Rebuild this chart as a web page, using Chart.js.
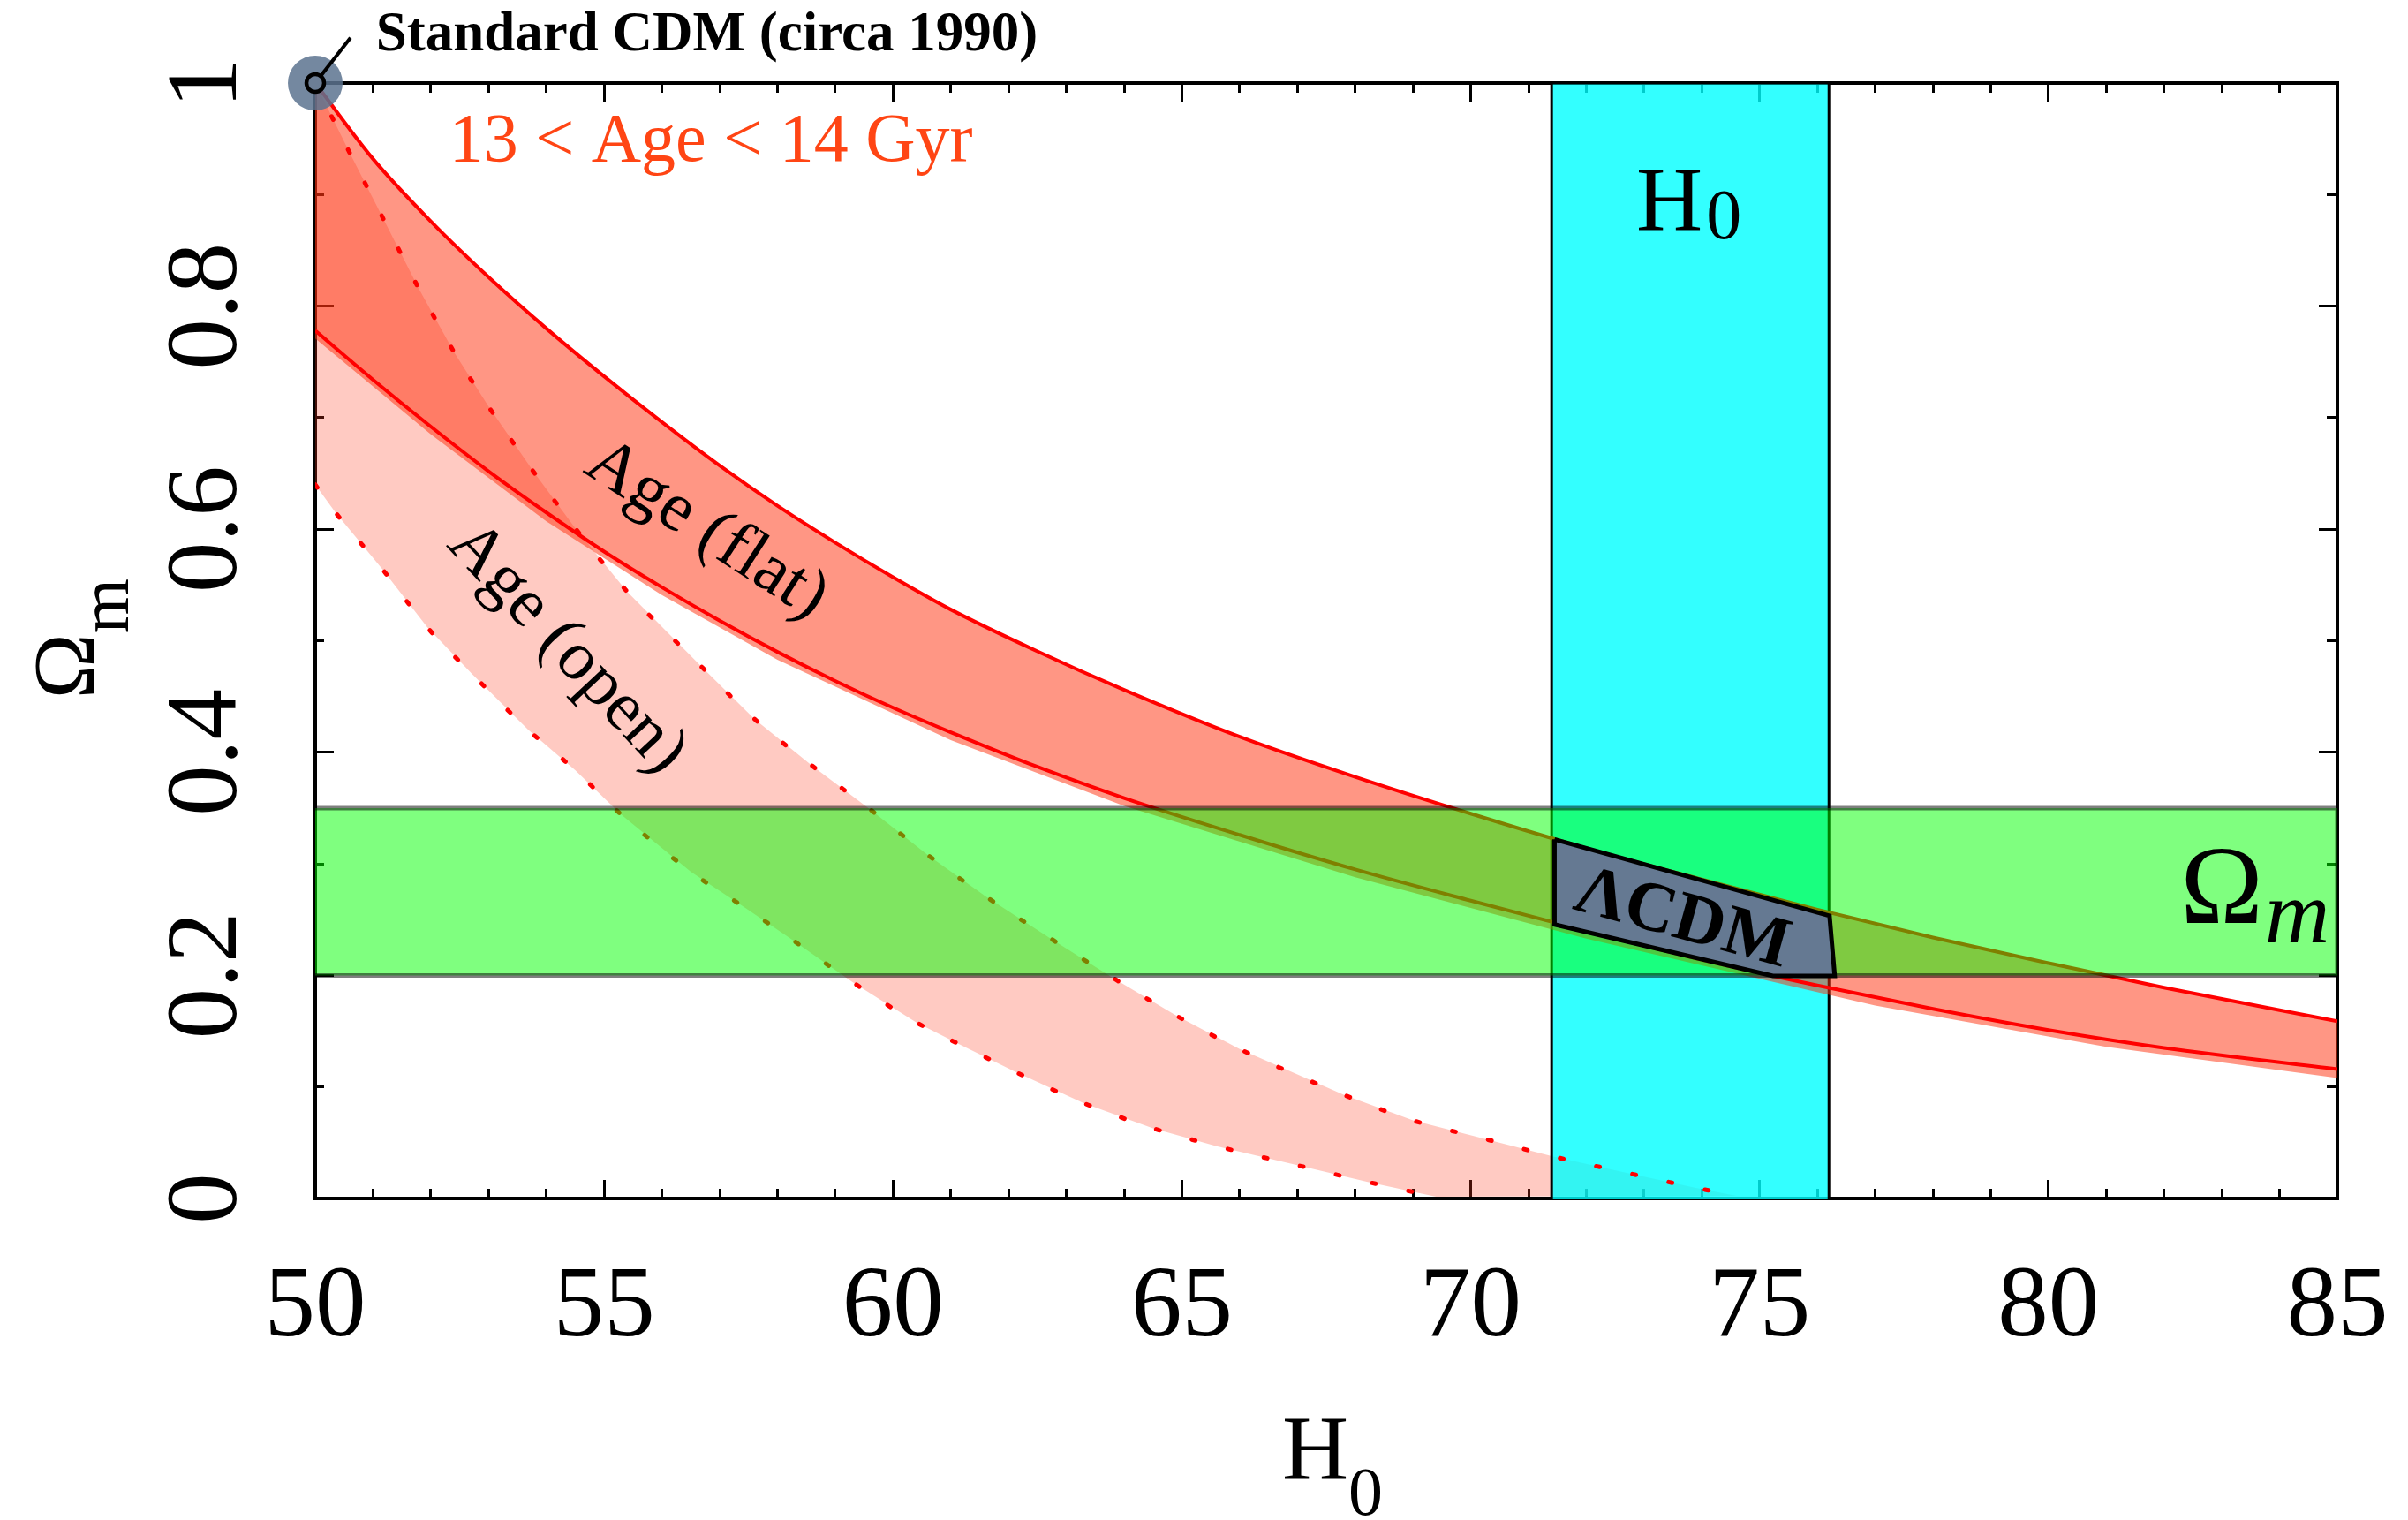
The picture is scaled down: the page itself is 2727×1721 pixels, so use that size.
<!DOCTYPE html>
<html>
<head>
<meta charset="utf-8">
<script src="https://cdn.jsdelivr.net/npm/chart.js@4.4.1/dist/chart.umd.min.js"></script>
<style>
  html, body { margin: 0; padding: 0; background: #fff; }
</style>
</head>
<body>
<canvas id="myChart" width="2727" height="1721"></canvas>
<script>
// axis ranges and tick labels
var hMin = 50, hMax = 85, omMin = 0, omMax = 1;
var xTicks = ["50", "55", "60", "65", "70", "75", "80", "85"];
var yTicks = ["0", "0.2", "0.4", "0.6", "0.8", "1"];

// Age (flat) solid curves: 13 Gyr (upper) and 14 Gyr (lower)
var flatH = [50, 51, 52, 53, 54, 55, 56, 57, 58, 59, 60, 61, 62.5, 64, 66, 68, 70, 72, 74, 76, 78, 80, 82, 85];
var flatHiOm = [1.0, 0.932, 0.876, 0.826, 0.78, 0.737, 0.696, 0.657, 0.621, 0.588, 0.557, 0.528, 0.4905, 0.456, 0.414, 0.378, 0.345, 0.314, 0.286, 0.259, 0.234, 0.211, 0.189, 0.159];
var flatLoOm = [0.778, 0.734, 0.692, 0.652, 0.615, 0.58, 0.548, 0.518, 0.49, 0.464, 0.44, 0.418, 0.387, 0.359, 0.326, 0.295, 0.267, 0.24, 0.214, 0.191, 0.17, 0.151, 0.135, 0.116];
// the shaded flat band is a coarser polygon that sits a little under the lower curve
var flatFillLoH = [50, 52, 54, 56, 58, 61, 64, 68, 72, 77, 81, 85];
var flatFillLoOm = [0.771, 0.685, 0.607, 0.541, 0.483, 0.411, 0.352, 0.288, 0.233, 0.173, 0.136, 0.108];

// Age (open) dotted curves
var openHiH = [50, 50.6, 51.2, 51.8, 52.4, 53, 53.8, 54.5, 55.4, 56.7, 57.6, 58.6, 59.6, 60.6, 61.6, 62.7, 63.8, 64.9, 66, 67.8, 69, 70.2, 71.4, 72.7, 73.9, 74.6];
var openHiOm = [1.0, 0.937, 0.876, 0.815, 0.759, 0.71, 0.65, 0.601, 0.544, 0.476, 0.43, 0.388, 0.349, 0.308, 0.271, 0.234, 0.198, 0.164, 0.134, 0.093, 0.07, 0.054, 0.038, 0.023, 0.0095, 0.0024];
var openLoH = [50, 50.35, 51.15, 51.94, 52.72, 53.69, 54.5, 55.3, 56.5, 57.4, 58.2, 59.3, 60.4, 61.2, 62.1, 63.3, 64.5, 65.6, 66.9, 68.2, 69.4];
var openLoOm = [0.64, 0.615, 0.565, 0.512, 0.47, 0.42, 0.384, 0.344, 0.293, 0.262, 0.234, 0.194, 0.158, 0.137, 0.114, 0.0855, 0.063, 0.047, 0.031, 0.015, 0.0015];

// H0 and Omega_m measurement bands
var h0Band = [71.4, 76.2];
var omBand = [0.2, 0.35];

// LCDM overlap patch
var lcdmH = [71.45, 76.21, 76.3, 75.23, 71.45];
var lcdmOm = [0.322, 0.2535, 0.1995, 0.1995, 0.2457];

// standard CDM point and the pin to its label
var scdmH = [50, 50.61];
var scdmOm = [1, 1.0406];

var serif = "Liberation Serif";

function pts(xs, ys) {
  return xs.map(function (x, i) {
    return { x: x, y: ys[i] };
  });
}

var openPoly = pts(openHiH, openHiOm).concat(pts(openLoH, openLoOm).reverse());
var flatPoly = pts(flatH, flatHiOm).concat(pts(flatFillLoH, flatFillLoOm).reverse());
var h0Poly = [
  { x: h0Band[0], y: omMin }, { x: h0Band[0], y: omMax },
  { x: h0Band[1], y: omMax }, { x: h0Band[1], y: omMin },
];
var omPoly = [
  { x: hMin, y: omBand[1] }, { x: hMax, y: omBand[1] },
  { x: hMax, y: omBand[0] }, { x: hMin, y: omBand[0] },
];
var lcdmPoly = pts(lcdmH, lcdmOm);
lcdmPoly.push(lcdmPoly[0]);

function shape(data, fillColor, lineColor, lineWidth, order) {
  return {
    data: data,
    fill: "shape",
    backgroundColor: fillColor,
    borderColor: lineColor || "rgba(0,0,0,0)",
    borderWidth: lineWidth || 0,
    pointRadius: 0,
    tension: 0,
    order: order,
  };
}

function curve(xs, ys, dotted, order) {
  return {
    data: pts(xs, ys),
    fill: false,
    borderColor: "#ff0000",
    borderWidth: dotted ? 5 : 4,
    borderDash: dotted ? [4, 38] : [],
    borderCapStyle: dotted ? "round" : "butt",
    cubicInterpolationMode: "monotone",
    pointRadius: 0,
    order: order,
  };
}

// minor ticks are drawn shorter by dashing the tick mark
function tickDash(major, minorDash) {
  return function (c) {
    return major(c.index) ? [] : minorDash;
  };
}
var xMajor = function (i) { return i % 5 === 0; };
var yMajor = function (i) { return i % 2 === 0; };

function axisGrid(major, minorDash) {
  return {
    drawOnChartArea: false,
    tickLength: -21,
    tickWidth: 3,
    tickColor: "#000",
    tickBorderDash: tickDash(major, minorDash),
  };
}

// pin the plot box: fixed axis sizes, no extra room for overhanging labels
function fixSize(w, h) {
  return function (s) {
    if (w !== null) s.width = w;
    if (h !== null) s.height = h;
    s.paddingLeft = 0;
    s.paddingRight = 0;
    s.paddingTop = 0;
    s.paddingBottom = 0;
  };
}

var labels = {
  id: "labels",
  afterDatasetsDraw: function (chart) {
    var c = chart.ctx;
    var xs = chart.scales.x, ys = chart.scales.y, a = chart.chartArea;
    var px = function (h) { return xs.getPixelForValue(h); };
    var py = function (o) { return ys.getPixelForValue(o); };

    function put(str, x, y, font, color, align, angle, base) {
      c.save();
      c.translate(x, y);
      c.rotate(((angle || 0) * Math.PI) / 180);
      c.font = font;
      c.fillStyle = color || "#000";
      c.textAlign = align || "left";
      c.textBaseline = base || "alphabetic";
      c.fillText(str, 0, 0);
      c.restore();
    }
    function width(str, font) {
      c.save();
      c.font = font;
      var w = c.measureText(str).width;
      c.restore();
      return w;
    }

    put("Standard CDM (circa 1990)", px(51.05), py(1.029), "bold 63px " + serif);
    put("13 < Age < 14 Gyr", px(52.32), py(0.93), "78px " + serif, "#ff4514");
    put("Age (flat)", px(56.77), py(0.599), "79px " + serif, "#000", "center", 33, "middle");
    put("Age (open)", px(54.35), py(0.493), "79px " + serif, "#000", "center", 47, "middle");
    put("\u039BCDM", px(73.66), py(0.2494), "bold 80px " + serif, "#000", "center", 15.5, "middle");

    // H0 inside the cyan band
    var hf = "104px " + serif;
    var hx = px(73.44) - width("H", hf) / 2;
    put("H", hx, py(0.868), hf);
    put("0", hx + width("H", hf) + 4, py(0.868) + 9, "80px " + serif);

    // Omega_m inside the green band
    var mf = "italic 102px " + serif;
    var mx = px(84.87) - width("m", mf);
    put("m", mx, py(0.2296), mf);
    put("\u03A9", mx - 2, py(0.247), "126px " + serif, "#000", "right");

    // axis titles
    var cx = (a.left + a.right) / 2;
    put("H", cx - 50, a.bottom + 318, "104px " + serif);
    put("0", cx + 25, a.bottom + 358, "78px " + serif);
    c.save();
    c.translate(a.left - 251, (a.top + a.bottom) / 2 + 66);
    c.rotate(-Math.PI / 2);
    c.font = "100px " + serif;
    c.fillStyle = "#000";
    c.textBaseline = "alphabetic";
    c.fillText("\u03A9", 0, 0);
    var ow = c.measureText("\u03A9").width;
    c.font = "80px " + serif;
    c.fillText("m", ow, 39);
    c.restore();
  },
};

var ctx = document.getElementById("myChart").getContext("2d");
var chart = new Chart(ctx, {
  type: "line",
  data: {
    datasets: [
      // pin and ring of the standard CDM label
      {
        data: pts(scdmH, scdmOm),
        borderColor: "#000",
        borderWidth: 4,
        pointRadius: 10,
        pointBorderWidth: 4.5,
        pointBorderColor: "#000",
        pointBackgroundColor: ["rgb(108,126,150)", "#fff"],
        clip: false,
        order: 1,
      },
      // standard CDM blob
      {
        data: [{ x: scdmH[0], y: scdmOm[0] }],
        showLine: false,
        pointRadius: 31,
        pointBorderWidth: 0,
        pointBackgroundColor: "rgba(92,115,143,0.85)",
        clip: false,
        order: 2,
      },
      shape(lcdmPoly, "rgb(101,121,146)", "#000", 5, 3),
      shape(omPoly, "rgba(0,255,0,0.5)", "rgba(0,0,0,0.5)", 5, 4),
      curve(flatH, flatHiOm, false, 5),
      curve(flatH, flatLoOm, false, 6),
      curve(openHiH, openHiOm, true, 7),
      curve(openLoH, openLoOm, true, 8),
      shape(flatPoly, "rgba(255,45,10,0.5)", null, 0, 9),
      shape(h0Poly, "rgba(0,255,255,0.8)", "#000", 3, 10),
      shape(openPoly, "rgba(255,60,30,0.27)", null, 0, 11),
    ],
  },
  options: {
    responsive: false,
    devicePixelRatio: 1,
    animation: false,
    layout: { padding: { top: 94, right: 80, bottom: 0, left: 0 } },
    plugins: {
      legend: { display: false },
      tooltip: { enabled: false },
    },
    scales: {
      x: {
        type: "linear",
        position: "bottom",
        min: hMin,
        max: hMax,
        afterFit: fixSize(null, 364),
        border: { width: 4, color: "#000" },
        grid: axisGrid(xMajor, [13, 100]),
        ticks: {
          stepSize: 1,
          autoSkip: false,
          maxRotation: 0,
          padding: 77,
          color: "#000",
          font: { family: serif, size: 115 },
          callback: function (v) {
            var k = Math.round(v - hMin);
            return k % 5 === 0 ? xTicks[k / 5] : "";
          },
        },
      },
      x2: {
        type: "linear",
        position: "top",
        min: hMin,
        max: hMax,
        afterFit: fixSize(null, 0),
        border: { width: 4, color: "#000" },
        grid: axisGrid(xMajor, [0, 10, 13, 100]),
        ticks: { stepSize: 1, autoSkip: false, display: false },
      },
      y: {
        type: "linear",
        position: "left",
        min: omMin,
        max: omMax,
        afterFit: fixSize(357, null),
        border: { width: 4, color: "#000" },
        grid: axisGrid(yMajor, [0, 11, 14, 100]),
        ticks: {
          stepSize: 0.1,
          autoSkip: false,
          minRotation: 90,
          maxRotation: 90,
          crossAlign: "center",
          padding: 69,
          color: "#000",
          font: { family: serif, size: 115 },
          callback: function (v) {
            var k = Math.round(v * 10);
            return k % 2 === 0 ? yTicks[k / 2] : "";
          },
        },
      },
      y2: {
        type: "linear",
        position: "right",
        min: omMin,
        max: omMax,
        afterFit: fixSize(0, null),
        border: { width: 4, color: "#000" },
        grid: axisGrid(yMajor, [14, 100]),
        ticks: { stepSize: 0.1, autoSkip: false, display: false },
      },
    },
  },
  plugins: [labels],
});
</script>
</body>
</html>
